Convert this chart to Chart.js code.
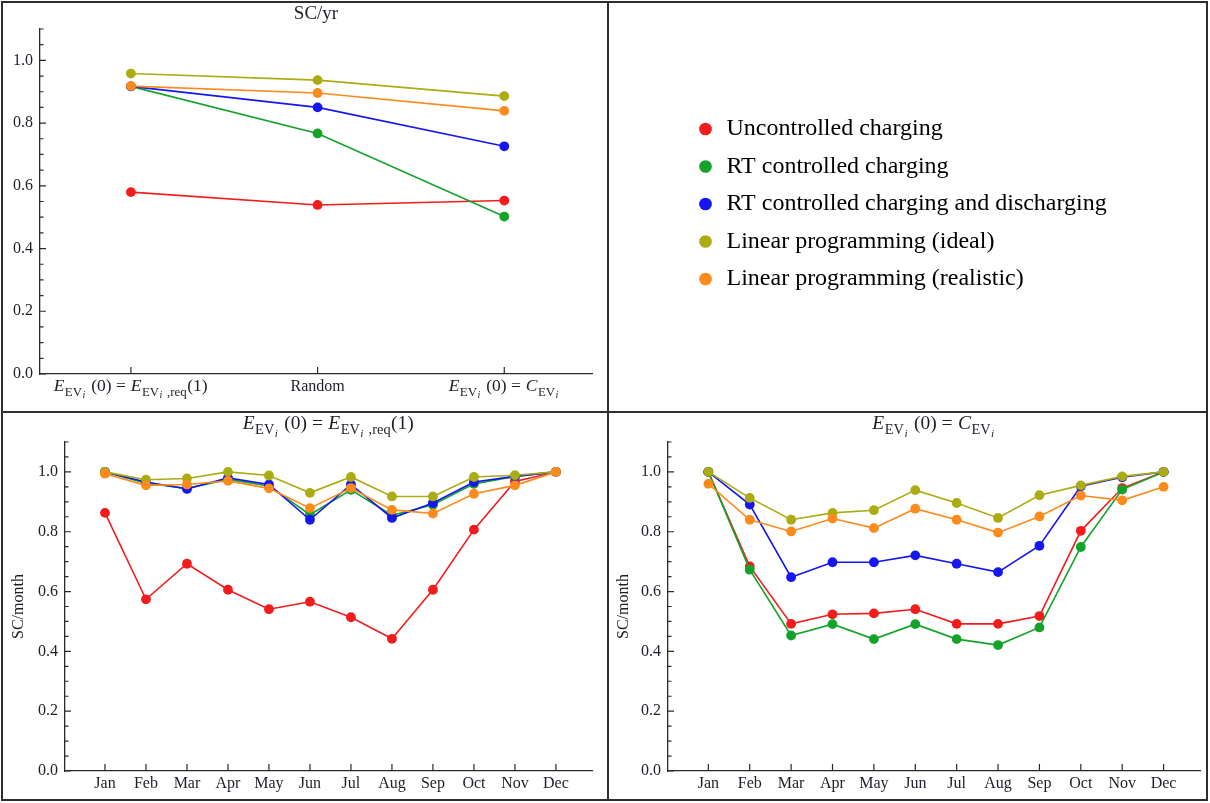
<!DOCTYPE html>
<html>
<head>
<meta charset="utf-8">
<title>Self-consumption of EV charging strategies</title>
<script src="https://cdn.jsdelivr.net/npm/chart.js@4.4.1/dist/chart.umd.min.js"></script>
<style>
  html, body { margin: 0; padding: 0; background: #fff; }
  #page { position: relative; width: 1210px; height: 803px; overflow: hidden; background: #fff; }
  canvas { position: absolute; }
  .rule { position: absolute; background: #2e2e2e; }
</style>
</head>
<body>
<div id="page">
  <canvas id="yearly" width="606" height="410" style="left:0px;top:0px"></canvas>
  <canvas id="legendBox" width="599" height="408" style="left:609px;top:0px"></canvas>
  <canvas id="monthlyReq" width="606" height="390" style="left:0px;top:413px"></canvas>
  <canvas id="monthlyCap" width="601" height="390" style="left:609px;top:413px"></canvas>
  <div class="rule" style="left:1px;top:1px;width:1207px;height:2px"></div>
  <div class="rule" style="left:1px;top:799px;width:1207px;height:2px"></div>
  <div class="rule" style="left:1px;top:1px;width:2px;height:800px"></div>
  <div class="rule" style="left:1206px;top:1px;width:2px;height:800px"></div>
  <div class="rule" style="left:607px;top:1px;width:2px;height:800px"></div>
  <div class="rule" style="left:1px;top:411px;width:1207px;height:2px"></div>
</div>
<script>
// ---- series ----
const seriesNames = [
  'Uncontrolled charging',
  'RT controlled charging',
  'RT controlled charging and discharging',
  'Linear programming (ideal)',
  'Linear programming (realistic)'
];
const seriesColors = ['#f21c1c', '#14a32a', '#1616f0', '#abab12', '#fd8a1c'];

// Formula pieces: [text, style]; '' upright, 'i' italic, 's' subscript, 'si' italic sub-subscript
const initReq = [['E','i'],['EV','s'],['i','si'],[' (0) = ',''],['E','i'],['EV','s'],['i','si'],[' ,req','s'],['(1)','']];
const initCap = [['E','i'],['EV','s'],['i','si'],[' (0) = ',''],['C','i'],['EV','s'],['i','si']];

// ---- yearly self-consumption per initial-state scenario ----
const scenarios = [initReq, 'Random', initCap];
const yearUncontrolled  = [0.580, 0.539, 0.553];
const yearRtCharge      = [0.917, 0.767, 0.502];
const yearRtChargeDis   = [0.917, 0.850, 0.726];
const yearLpIdeal       = [0.958, 0.937, 0.886];
const yearLpRealistic   = [0.918, 0.896, 0.839];

// ---- monthly self-consumption ----
const months = ['Jan','Feb','Mar','Apr','May','Jun','Jul','Aug','Sep','Oct','Nov','Dec'];

// E_EVi(0) = E_EVi,req(1)
const reqUncontrolled = [0.863, 0.574, 0.693, 0.606, 0.541, 0.566, 0.514, 0.442, 0.606, 0.807, 0.968, 1.000];
const reqRtCharge     = [1.000, 0.962, 0.945, 0.975, 0.953, 0.857, 0.940, 0.855, 0.890, 0.960, 0.985, 1.000];
const reqRtChargeDis  = [1.000, 0.966, 0.943, 0.980, 0.958, 0.840, 0.958, 0.846, 0.896, 0.966, 0.985, 1.000];
const reqLpIdeal      = [1.000, 0.974, 0.978, 1.000, 0.988, 0.930, 0.983, 0.918, 0.918, 0.983, 0.989, 1.000];
const reqLpRealistic  = [0.994, 0.955, 0.958, 0.970, 0.945, 0.879, 0.946, 0.873, 0.861, 0.927, 0.955, 1.000];

// E_EVi(0) = C_EVi
const capUncontrolled = [1.000, 0.684, 0.492, 0.524, 0.527, 0.541, 0.492, 0.492, 0.518, 0.803, 0.946, 1.000];
const capRtCharge     = [1.000, 0.673, 0.453, 0.491, 0.441, 0.491, 0.441, 0.421, 0.480, 0.749, 0.941, 1.000];
const capRtChargeDis  = [1.000, 0.891, 0.648, 0.698, 0.698, 0.721, 0.693, 0.665, 0.753, 0.952, 0.982, 1.000];
const capLpIdeal      = [1.000, 0.913, 0.840, 0.863, 0.872, 0.939, 0.896, 0.846, 0.922, 0.955, 0.985, 1.000];
const capLpRealistic  = [0.960, 0.840, 0.801, 0.844, 0.812, 0.877, 0.840, 0.797, 0.851, 0.921, 0.905, 0.950];

const yLabelValues = [0, 0.2, 0.4, 0.6, 0.8, 1.0];

// ---- styling ----
const SERIF = '"Liberation Serif", "Times New Roman", serif';
const AXIS = '#2a2a2a';
const TEXT = '#1e1e28';

function fontStr(size, italic) {
  return (italic ? 'italic ' : '') + size + 'px ' + SERIF;
}

// Lay out formula pieces and return their fonts and offsets plus total width.
function layoutRich(pieces, size) {
  let x = 0;
  const out = [];
  const c = document.createElement('canvas').getContext('2d');
  pieces.forEach(([t, st]) => {
    let sz = size, dy = 0, it = false;
    if (st === 'i') it = true;
    if (st === 's') { sz = size * 0.74; dy = size * 0.26; }
    if (st === 'si') { sz = size * 0.58; dy = size * 0.42; it = true; }
    const f = fontStr(sz.toFixed(1), it);
    c.font = f;
    const w = c.measureText(t).width;
    out.push({ t, f, dx: x, dy });
    x += w + (st === 'si' ? 1.5 : 0.5);
  });
  return { parts: out, width: x };
}

function drawRich(ctx, pieces, cx, baseY, size) {
  const { parts, width } = layoutRich(pieces, size);
  ctx.save();
  ctx.fillStyle = TEXT;
  ctx.textBaseline = 'alphabetic';
  ctx.textAlign = 'left';
  const x0 = cx - width / 2;
  parts.forEach(p => { ctx.font = p.f; ctx.fillText(p.t, x0 + p.dx, baseY + p.dy); });
  ctx.restore();
}

function panel(id, cfg) {
  const { labels, series, xMin, xMax, area, title, titleY, titleSize, yTitle, yTitleOffset } = cfg;
  const canvas = document.getElementById(id);
  const W = canvas.width, H = canvas.height;

  // Inward tick marks, panel title and formula-style category labels
  const decor = {
    id: 'decor_' + id,
    beforeDatasetsDraw(chart) {
      const { ctx, chartArea: a, scales: { x, y } } = chart;
      ctx.save();
      ctx.strokeStyle = AXIS;
      ctx.lineWidth = 1.2;
      ctx.beginPath();
      for (let k = 0; k <= 22; k++) {
        const py = y.getPixelForValue(k * 0.05);
        const len = k % 4 === 0 ? 6 : 3.5;
        ctx.moveTo(a.left, py);
        ctx.lineTo(a.left + len, py);
      }
      labels.forEach((_, i) => {
        const px = x.getPixelForValue(i);
        ctx.moveTo(px, a.bottom);
        ctx.lineTo(px, a.bottom - 7);
      });
      ctx.stroke();
      ctx.restore();

      const cx = (a.left + a.right) / 2;
      if (typeof title === 'string') {
        ctx.save();
        ctx.font = fontStr(titleSize, false);
        ctx.fillStyle = TEXT;
        ctx.textAlign = 'center';
        ctx.textBaseline = 'alphabetic';
        ctx.fillText(title, cx, titleY);
        ctx.restore();
      } else {
        drawRich(ctx, title, cx, titleY, titleSize);
      }

      labels.forEach((lab, i) => {
        if (typeof lab !== 'string') {
          drawRich(ctx, lab, x.getPixelForValue(i), a.bottom + 17, 17.5);
        }
      });
    }
  };

  return new Chart(canvas, {
    type: 'line',
    data: {
      datasets: series.map((vals, k) => ({
        label: seriesNames[k],
        data: vals.map((v, i) => ({ x: i, y: v })),
        borderColor: seriesColors[k],
        backgroundColor: seriesColors[k],
        borderWidth: 1.6,
        pointRadius: 4.9,
        pointHoverRadius: 4.9,
        pointBorderWidth: 0,
        tension: 0,
        order: series.length - k
      }))
    },
    options: {
      responsive: false,
      animation: false,
      events: [],
      layout: { padding: { left: 0, top: area.top, right: W - area.right, bottom: 0 } },
      plugins: { legend: { display: false }, tooltip: { enabled: false }, title: { display: false } },
      scales: {
        x: {
          type: 'linear',
          min: xMin,
          max: xMax,
          afterBuildTicks: s => { s.ticks = labels.map((_, i) => ({ value: i })); },
          afterFit: s => { s.height = H - area.bottom; },
          ticks: {
            autoSkip: false,
            maxRotation: 0,
            padding: 3,
            color: TEXT,
            font: { family: SERIF, size: 16 },
            callback: v => (typeof labels[v] === 'string' ? labels[v] : '')
          },
          grid: { display: false, drawTicks: false },
          border: { display: true, color: AXIS, width: 1.3 }
        },
        y: {
          min: 0,
          max: 1.1,
          afterBuildTicks: s => { s.ticks = yLabelValues.map(v => ({ value: v })); },
          afterFit: s => { s.width = area.left; },
          ticks: {
            padding: 7,
            color: TEXT,
            font: { family: SERIF, size: 16 },
            callback: v => Number(v).toFixed(1)
          },
          title: yTitle ? {
            display: true,
            text: yTitle,
            color: TEXT,
            font: { family: SERIF, size: 16 },
            padding: { top: yTitleOffset, bottom: 0 }
          } : { display: false },
          grid: { display: false, drawTicks: false },
          border: { display: true, color: AXIS, width: 1.3 }
        }
      }
    },
    plugins: [decor]
  });
}

panel('yearly', {
  labels: scenarios,
  series: [yearUncontrolled, yearRtCharge, yearRtChargeDis, yearLpIdeal, yearLpRealistic],
  xMin: -0.487, xMax: 2.47,
  area: { left: 40, right: 592, top: 29, bottom: 374 },
  title: 'SC/yr', titleY: 19, titleSize: 19
});

panel('monthlyReq', {
  labels: months,
  series: [reqUncontrolled, reqRtCharge, reqRtChargeDis, reqLpIdeal, reqLpRealistic],
  xMin: -0.975, xMax: 11.88,
  area: { left: 65, right: 592, top: 29, bottom: 358 },
  title: initReq, titleY: 16, titleSize: 19.5,
  yTitle: 'SC/month', yTitleOffset: 9
});

panel('monthlyCap', {
  labels: months,
  series: [capUncontrolled, capRtCharge, capRtChargeDis, capLpIdeal, capLpRealistic],
  xMin: -0.975, xMax: 11.88,
  area: { left: 59, right: 591, top: 29, bottom: 358 },
  title: initCap, titleY: 16, titleSize: 19.5,
  yTitle: 'SC/month', yTitleOffset: 5
});

// Shared legend for all three panels
new Chart(document.getElementById('legendBox'), {
  type: 'line',
  data: { datasets: seriesNames.map((n, i) => ({ label: n, data: [], borderColor: seriesColors[i], backgroundColor: seriesColors[i] })) },
  options: {
    responsive: false,
    animation: false,
    events: [],
    layout: { padding: { left: 74, top: 0, right: 0, bottom: 0 } },
    scales: { x: { display: false }, y: { display: false } },
    plugins: {
      tooltip: { enabled: false },
      legend: {
        display: true,
        position: 'left',
        align: 'center',
        maxWidth: 520,
        labels: {
          usePointStyle: true,
          boxWidth: 18,
          boxHeight: 9,
          padding: 13.5,
          color: '#111',
          font: { family: SERIF, size: 24 },
          generateLabels: () => seriesNames.map((n, i) => ({
            text: n,
            fillStyle: seriesColors[i],
            strokeStyle: seriesColors[i],
            lineWidth: 0,
            pointStyle: 'circle',
            hidden: false,
            datasetIndex: i
          }))
        }
      }
    }
  }
});
</script>
</body>
</html>
